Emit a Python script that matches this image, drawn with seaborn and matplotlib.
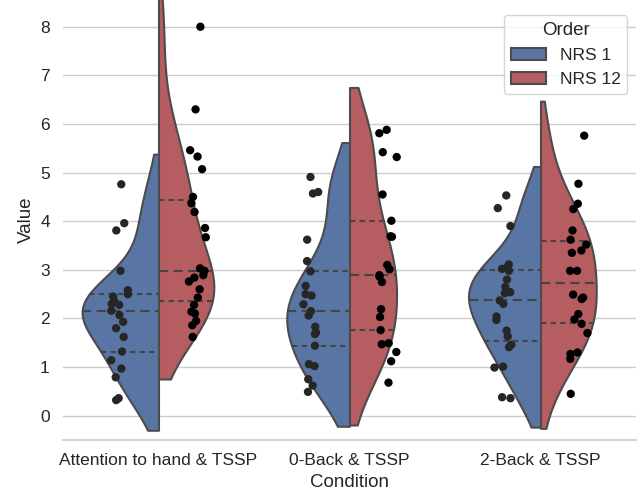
import numpy as np
import pandas as pd
import matplotlib
matplotlib.use("Agg")
import matplotlib.pyplot as plt
from matplotlib.collections import LineCollection
import seaborn as sns

## Condition names and hue levels
conditions = ["Attention to hand & TSSP", "0-Back & TSSP", "2-Back & TSSP"]
orders = ["NRS 1", "NRS 12"]

## Values
att_nrs1 = [4.76, 3.96, 3.81, 2.98, 2.58, 2.50, 2.45, 2.34, 2.30, 2.28, 2.16, 2.07,
            1.93, 1.80, 1.62, 1.32, 1.14, 0.97, 0.79, 0.36, 0.32]
att_nrs12 = [8.00, 6.30, 5.46, 5.33, 5.07, 4.50, 4.37, 4.19, 3.86, 3.67, 3.03, 2.98,
             2.89, 2.84, 2.76, 2.60, 2.43, 2.28, 2.14, 2.10, 1.95, 1.86, 1.62]
back0_nrs1 = [4.91, 4.60, 4.57, 3.62, 3.18, 2.97, 2.67, 2.50, 2.47, 2.29, 2.15, 2.06,
              1.83, 1.71, 1.68, 1.44, 1.06, 1.02, 0.75, 0.62, 0.49]
back0_nrs12 = [5.88, 5.81, 5.42, 5.32, 4.55, 4.01, 3.69, 3.68, 3.10, 3.01, 2.89, 2.86,
               2.75, 2.19, 2.03, 1.76, 1.49, 1.47, 1.31, 1.12, 0.68]
back2_nrs1 = [4.53, 4.27, 3.90, 3.11, 3.04, 3.02, 2.98, 2.80, 2.65, 2.54, 2.52, 2.37,
              2.30, 2.04, 1.97, 1.75, 1.63, 1.46, 1.41, 1.01, 0.99, 0.38, 0.36]
back2_nrs12 = [5.76, 4.77, 4.36, 4.25, 3.81, 3.62, 3.52, 3.40, 3.35, 2.98, 2.98, 2.49,
               2.43, 2.40, 2.09, 1.98, 1.89, 1.70, 1.30, 1.27, 1.17, 0.45]

series = {
    (conditions[0], orders[0]): att_nrs1,
    (conditions[0], orders[1]): att_nrs12,
    (conditions[1], orders[0]): back0_nrs1,
    (conditions[1], orders[1]): back0_nrs12,
    (conditions[2], orders[0]): back2_nrs1,
    (conditions[2], orders[1]): back2_nrs12,
}

rows = []
for (cond, order), vals in series.items():
    for v in vals:
        rows.append({"Condition": cond, "Order": order, "Value": v})
df = pd.DataFrame(rows)

np.random.seed(3)  # only for the strip jitter

sns.set_theme(style="whitegrid")
plt.rcParams["font.family"] = ["Liberation Sans", "DejaVu Sans"]

fig = plt.figure(figsize=(6.39, 4.94), dpi=100)
ax = fig.add_axes([63 / 639, 54 / 494, (636 - 63) / 639, 440 / 494])

lw = 1.5
sns.violinplot(data=df, x="Condition", y="Value", hue="Order", order=conditions,
               hue_order=orders, split=True, inner="quart", cut=1, common_norm=True,
               palette=["#4C72B0", "#C44E52"], linewidth=lw,
               inner_kws=dict(linewidth=lw, color="#454545"), ax=ax)

# old-style quartile dashes: short for q1/q3, long for the median
short_dash = (2.6, 2.0)
long_dash = (4.4, 2.6)
found = 0
for i, ln in enumerate(list(ax.lines)):
    ln.set_linewidth(lw)
    ln.set_dashes(long_dash if i % 3 == 1 else short_dash)
    found += 1
for coll in ax.collections:
    if isinstance(coll, LineCollection):
        n = len(coll.get_segments())
        coll.set_linestyles([(0, long_dash) if i % 3 == 1 else (0, short_dash)
                             for i in range(n)])
        coll.set_linewidth(lw)
        found += 1
if found == 0:
    raise RuntimeError("no inner lines: %r" % [type(c) for c in ax.get_children()])

sns.stripplot(data=df, x="Condition", y="Value", hue="Order", order=conditions,
              hue_order=orders, dodge=True, color="black", size=6,
              legend=False, ax=ax)

ax.set_ylim(-0.5, 8.55)
ax.set_xlim(-0.5, 2.5)
ax.set_yticks(range(0, 9))
sns.despine(ax=ax, left=True, top=True, right=True)
ax.legend(title="Order", loc="upper right", bbox_to_anchor=(1.0, 0.985),
          fontsize=12.5, title_fontsize=13.5)
ax.tick_params(axis="both", labelsize=12.5)
ax.set_xlabel("Condition", fontsize=13.5)
ax.set_ylabel("Value", fontsize=13.5)

fig.savefig("out.png", dpi=100)
